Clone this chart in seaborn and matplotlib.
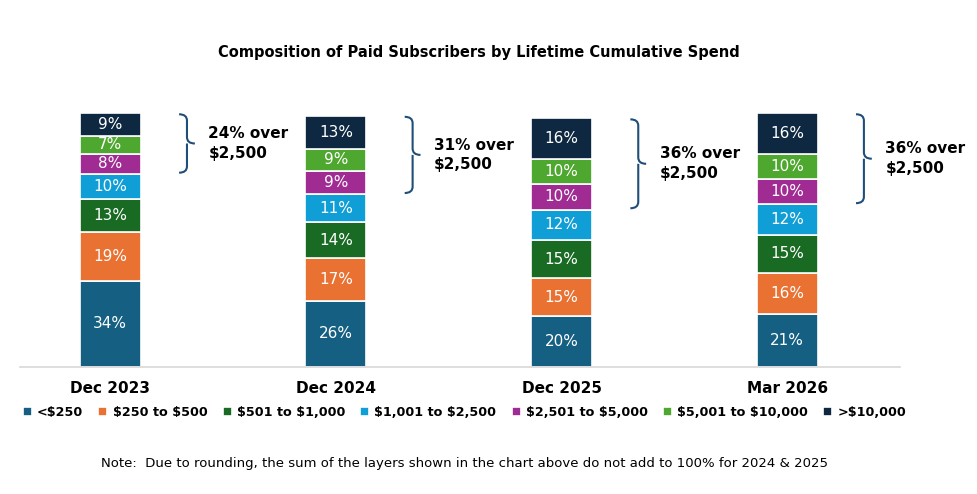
import matplotlib
matplotlib.use("Agg")
import matplotlib.pyplot as plt
import seaborn as sns
import pandas as pd
import numpy as np
from matplotlib.path import Path
from matplotlib.patches import PathPatch

categories = ["Dec 2023", "Dec 2024", "Dec 2025", "Mar 2026"]
bands = ["<$250", "$250 to $500", "$501 to $1,000", "$1,001 to $2,500",
         "$2,501 to $5,000", "$5,001 to $10,000", ">$10,000"]
values = {
    "<$250": [34, 26, 20, 21],
    "$250 to $500": [19, 17, 15, 16],
    "$501 to $1,000": [13, 14, 15, 15],
    "$1,001 to $2,500": [10, 11, 12, 12],
    "$2,501 to $5,000": [8, 9, 10, 10],
    "$5,001 to $10,000": [7, 9, 10, 10],
    ">$10,000": [9, 13, 16, 16],
}
over_labels = ["24% over\n$2,500", "31% over\n$2,500", "36% over\n$2,500", "36% over\n$2,500"]
colors = ["#156082", "#E97132", "#196B24", "#0F9ED5", "#A02B93", "#4EA72E", "#0E2841"]

sns.set_theme(style="white")
plt.rcParams['font.family'] = ['DejaVu Sans']
plt.rcParams['text.parse_math'] = False
plt.rcParams['text.color'] = 'black'
plt.rcParams['xtick.color'] = 'black'
fig = plt.figure(figsize=(9.78, 4.94), dpi=100)
ax = fig.add_axes([20/978, 127/494, 880/978, 254/494])

df = pd.DataFrame(values, index=categories)
x = np.arange(len(categories))
bottom = np.zeros(len(categories))
w = 0.27
for b, c in zip(bands, colors):
    v = df[b].values
    ax.bar(x, v, width=w, bottom=bottom, color=c, edgecolor="white", linewidth=1.2, label=b)
    for xi, vi, bi in zip(x, v, bottom):
        ax.text(xi, bi + vi/2, f"{vi}%", ha="center", va="center", color="white", fontsize=11)
    bottom = bottom + v

totals = bottom
for i in range(len(categories)):
    top = totals[i] - 0.5
    low = totals[i] - sum(df[b].values[i] for b in bands[4:]) + 0.5
    mid = (top + low) / 2
    x0 = i + w/2 + 0.17
    d = 0.035
    r = 2.5
    verts = [(x0, top), (x0 + d, top), (x0 + d, top - r),
             (x0 + d, mid + r), (x0 + d, mid), (x0 + 2*d, mid),
             (x0 + d, mid), (x0 + d, mid - r),
             (x0 + d, low + r), (x0 + d, low), (x0, low)]
    codes = [Path.MOVETO, Path.CURVE3, Path.CURVE3, Path.LINETO, Path.CURVE3, Path.CURVE3,
             Path.MOVETO, Path.CURVE3, Path.LINETO, Path.CURVE3, Path.CURVE3]
    ax.add_patch(PathPatch(Path(verts, codes), fill=False, edgecolor="#1F4E79", lw=1.5, clip_on=False))
    ax.text(i + w/2 + 0.3, mid, over_labels[i], ha="left", va="center", fontsize=11,
            fontweight="bold", color="black", linespacing=1.4)

ax.set_xlim(-0.4, 3.5)
ax.set_ylim(0, 100)
ax.set_xticks(x)
ax.set_xticklabels(categories, fontsize=11, fontweight="bold")
ax.tick_params(axis="x", length=0, pad=10)
ax.set_yticks([])
for s in ["top", "right", "left"]:
    ax.spines[s].set_visible(False)
ax.spines["bottom"].set_color("#D9D9D9")

fig.text(0.49, 1 - 52/494, "Composition of Paid Subscribers by Lifetime Cumulative Spend",
         ha="center", va="center", fontsize=10.5, fontweight="bold")
handles, labels = ax.get_legend_handles_labels()
fig.legend(handles, labels, loc="center", bbox_to_anchor=(0.475, 1 - 412/494), ncol=7,
           frameon=False, prop={"size": 9.2, "weight": "bold"}, handlelength=0.7, handleheight=0.7,
           handletextpad=0.4, columnspacing=1.2)
fig.text(0.475, 1 - 463/494,
         "Note:  Due to rounding, the sum of the layers shown in the chart above do not add to 100% for 2024 & 2025",
         ha="center", va="center", fontsize=9.5)
fig.savefig("out.png", dpi=100)
